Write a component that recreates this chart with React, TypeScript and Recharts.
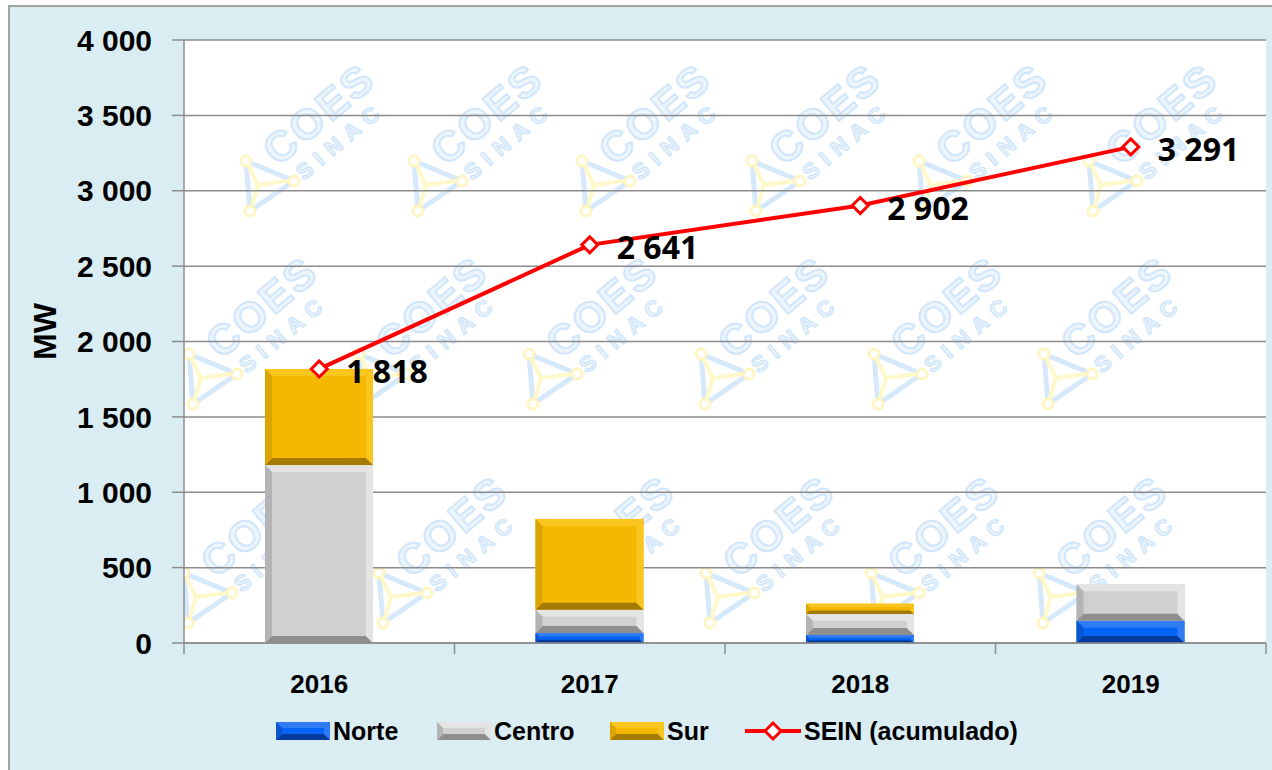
import {
  ComposedChart,
  Bar,
  Line,
  XAxis,
  YAxis,
  CartesianGrid,
  LabelList,
} from "recharts";

const categories = ["2016", "2017", "2018", "2019"];
const norte = [0, 66, 53, 148];
const centro = [1180, 155, 140, 241];
const sur = [638, 602, 68, 0];
const sein = [1818, 2641, 2902, 3291];
const yTicks = [0, 500, 1000, 1500, 2000, 2500, 3000, 3500, 4000];

const data = categories.map((year, i) => ({
  year,
  norte: norte[i],
  centro: centro[i],
  sur: sur[i],
  sein: sein[i],
}));

const W = 1272;
const H = 770;
const margin = { top: 40, right: 6, bottom: 67, left: 8 };
const yAxisWidth = 176;
const xAxisHeight = 60;
const plotLeft = margin.left + yAxisWidth;
const plotTop = margin.top;
const plotWidth = W - plotLeft - margin.right;
const plotHeight = H - margin.top - margin.bottom - xAxisHeight;
const band = plotWidth / categories.length;

const AXIS_GRAY = "#8c8c8c";
const FONT = "'Liberation Sans', Arial, sans-serif";

const fmt = (v: number) => String(v).replace(/\B(?=(\d{3})+(?!\d))/g, " ");

const palettes = {
  norte: { base: "#0563f5", light: "#2f7cf5", side: "#0a55d0", dark: "#003b9c" },
  centro: { base: "#d0d0d0", light: "#e4e4e4", side: "#b4b4b4", dark: "#8e8e8e" },
  sur: { base: "#f5b800", light: "#fbc51f", side: "#dca400", dark: "#a57a00" },
};

type Pal = { base: string; light: string; side: string; dark: string };

const Bevel = ({ x, y, width, height, pal }: any) => {
  if (!height || height <= 0) return null;
  const p: Pal = pal;
  const b = Math.max(1, Math.min(7, height / 3, width / 3));
  const x2 = x + width;
  const y2 = y + height;
  return (
    <g>
      <rect x={x} y={y} width={width} height={height} fill={p.base} />
      <polygon points={`${x},${y} ${x2},${y} ${x2 - b},${y + b} ${x + b},${y + b}`} fill={p.light} />
      <polygon points={`${x},${y2} ${x2},${y2} ${x2 - b},${y2 - b} ${x + b},${y2 - b}`} fill={p.dark} />
      <polygon points={`${x},${y} ${x + b},${y + b} ${x + b},${y2 - b} ${x},${y2}`} fill={p.side} />
      <polygon points={`${x2},${y} ${x2 - b},${y + b} ${x2 - b},${y2 - b} ${x2},${y2}`} fill={p.light} />
    </g>
  );
};

const Diamond = ({ cx, cy }: any) => {
  if (cx == null || cy == null) return null;
  const r = 8;
  return (
    <path
      d={`M${cx},${cy - r} L${cx + r},${cy} L${cx},${cy + r} L${cx - r},${cy} Z`}
      fill="#fff"
      stroke="#ff0000"
      strokeWidth={3}
    />
  );
};

const SeinLabel = ({ x, y, value }: any) => (
  <text
    x={x + 27}
    y={y + 2}
    dominantBaseline="central"
    fontFamily="'Noto Sans', sans-serif"
    fontWeight={700}
    fontSize={32}
    fill="#000"
  >
    {fmt(value)}
  </text>
);

const XTick = ({ x, y, payload, index }: any) => (
  <g>
    <line x1={x - band / 2} y1={y} x2={x - band / 2} y2={y + 11} stroke={AXIS_GRAY} strokeWidth={1.5} />
    {index === categories.length - 1 && (
      <line x1={x + band / 2} y1={y} x2={x + band / 2} y2={y + 11} stroke={AXIS_GRAY} strokeWidth={1.5} />
    )}
    <text
      x={x}
      y={y + 41}
      textAnchor="middle"
      dominantBaseline="central"
      fontFamily={FONT}
      fontWeight={700}
      fontSize={26}
      fill="#000"
    >
      {payload.value}
    </text>
  </g>
);

const MwLabel = ({ viewBox }: any) => {
  const cx = viewBox.x + 37;
  const cy = viewBox.y + viewBox.height / 2 - 10;
  return (
    <text
      x={cx}
      y={cy}
      transform={`rotate(-90 ${cx} ${cy})`}
      textAnchor="middle"
      dominantBaseline="central"
      fontFamily={FONT}
      fontWeight={700}
      fontSize={32}
      fill="#000"
    >
      MW
    </text>
  );
};

// faint COES SINAC watermark behind the plot
const logoRows = [
  { y: 185, xs: [262, 430, 598, 768, 935, 1105] },
  { y: 378, xs: [205, 375, 545, 717, 890, 1060] },
  { y: 597, xs: [200, 395, 562, 722, 887, 1055] },
];

const Logo = ({ cx, cy }: { cx: number; cy: number }) => (
  <g transform={`translate(${cx},${cy})`} opacity={0.6}>
    <polygon points="-16,-24 -12,26 32,-4" fill="none" stroke="#bcdcf7" strokeWidth={5} />
    <path d="M-4,0 L-14,-20 M-4,0 L-10,20 M-4,0 L26,-4" stroke="#fff6a8" strokeWidth={4} />
    <circle cx={-16} cy={-24} r={5} fill="#fff" stroke="#fff09a" strokeWidth={3} />
    <circle cx={-12} cy={26} r={5} fill="#fff" stroke="#fff09a" strokeWidth={3} />
    <circle cx={32} cy={-4} r={5} fill="#fff" stroke="#fff09a" strokeWidth={3} />
    <text
      transform="translate(16,-18) rotate(-40)"
      fontFamily={FONT}
      fontWeight={700}
      fontSize={42}
      letterSpacing={3}
      fill="#e2f0fd"
      stroke="#b3d7f7"
      strokeWidth={2}
    >
      COES
    </text>
    <text
      transform="translate(42,-4) rotate(-40)"
      fontFamily={FONT}
      fontWeight={700}
      fontSize={22}
      letterSpacing={8}
      fill="#e2f0fd"
      stroke="#b3d7f7"
      strokeWidth={1.5}
    >
      SINAC
    </text>
  </g>
);

const Swatch = ({ pal }: { pal: Pal }) => (
  <svg width={54} height={18} style={{ display: "block" }}>
    <Bevel x={0} y={0} width={54} height={18} pal={pal} />
  </svg>
);

const legendItems = [
  { name: "Norte", pal: palettes.norte, left: 276 },
  { name: "Centro", pal: palettes.centro, left: 437 },
  { name: "Sur", pal: palettes.sur, left: 610 },
];

export default function App() {
  return (
    <div style={{ position: "absolute", left: 0, top: 0, width: W, height: H, background: "#fff", overflow: "hidden" }}>
      <div
        style={{
          position: "absolute",
          left: 8,
          top: 5,
          width: W,
          height: H,
          background: "#daedf3",
          borderLeft: "2px solid #a3a3a3",
          borderTop: "2px solid #a3a3a3",
        }}
      />
      <div
        style={{
          position: "absolute",
          left: plotLeft,
          top: plotTop,
          width: plotWidth,
          height: plotHeight,
          background: "#fff",
          overflow: "hidden",
        }}
      >
        <svg width={plotWidth} height={plotHeight}>
          {logoRows.map((row) =>
            row.xs.map((lx) => <Logo key={`${lx}-${row.y}`} cx={lx - plotLeft} cy={row.y - plotTop} />)
          )}
        </svg>
      </div>
      <div style={{ position: "absolute", left: 0, top: 0 }}>
        <ComposedChart width={W} height={H} data={data} margin={margin}>
          <CartesianGrid horizontal vertical={false} stroke={AXIS_GRAY} strokeWidth={1.5} />
          <XAxis
            dataKey="year"
            height={xAxisHeight}
            axisLine={{ stroke: AXIS_GRAY, strokeWidth: 1.5 }}
            tickLine={false}
            tickSize={0}
            tickMargin={0}
            tick={<XTick />}
            interval={0}
          />
          <YAxis
            width={yAxisWidth}
            domain={[0, 4000]}
            ticks={yTicks}
            tickFormatter={fmt}
            axisLine={{ stroke: AXIS_GRAY, strokeWidth: 1.5 }}
            tickLine={{ stroke: AXIS_GRAY, strokeWidth: 1.5 }}
            tickSize={12}
            tickMargin={20}
            tick={{ fill: "#000", fontSize: 30, fontWeight: 700, fontFamily: FONT }}
            label={<MwLabel />}
          />
          <Bar dataKey="norte" stackId="a" barSize={108} isAnimationActive={false}
            shape={(p: any) => <Bevel {...p} pal={palettes.norte} />} />
          <Bar dataKey="centro" stackId="a" barSize={108} isAnimationActive={false}
            shape={(p: any) => <Bevel {...p} pal={palettes.centro} />} />
          <Bar dataKey="sur" stackId="a" barSize={108} isAnimationActive={false}
            shape={(p: any) => <Bevel {...p} pal={palettes.sur} />} />
          <Line
            dataKey="sein"
            type="linear"
            stroke="#ff0000"
            strokeWidth={4}
            dot={<Diamond />}
            activeDot={false}
            isAnimationActive={false}
          >
            <LabelList dataKey="sein" content={<SeinLabel />} />
          </Line>
        </ComposedChart>
      </div>
      {legendItems.map((it) => (
        <div
          key={it.name}
          style={{ position: "absolute", left: it.left, top: 716, display: "flex", alignItems: "center", height: 30 }}
        >
          <Swatch pal={it.pal} />
          <span style={{ marginLeft: 3, fontFamily: FONT, fontWeight: 700, fontSize: 25, color: "#000" }}>{it.name}</span>
        </div>
      ))}
      <div style={{ position: "absolute", left: 745, top: 716, display: "flex", alignItems: "center", height: 30 }}>
        <svg width={56} height={24} style={{ display: "block" }}>
          <line x1={0} y1={12} x2={56} y2={12} stroke="#ff0000" strokeWidth={4} />
          <Diamond cx={28} cy={12} />
        </svg>
        <span style={{ marginLeft: 3, fontFamily: FONT, fontWeight: 700, fontSize: 25, color: "#000" }}>
          SEIN (acumulado)
        </span>
      </div>
    </div>
  );
}
